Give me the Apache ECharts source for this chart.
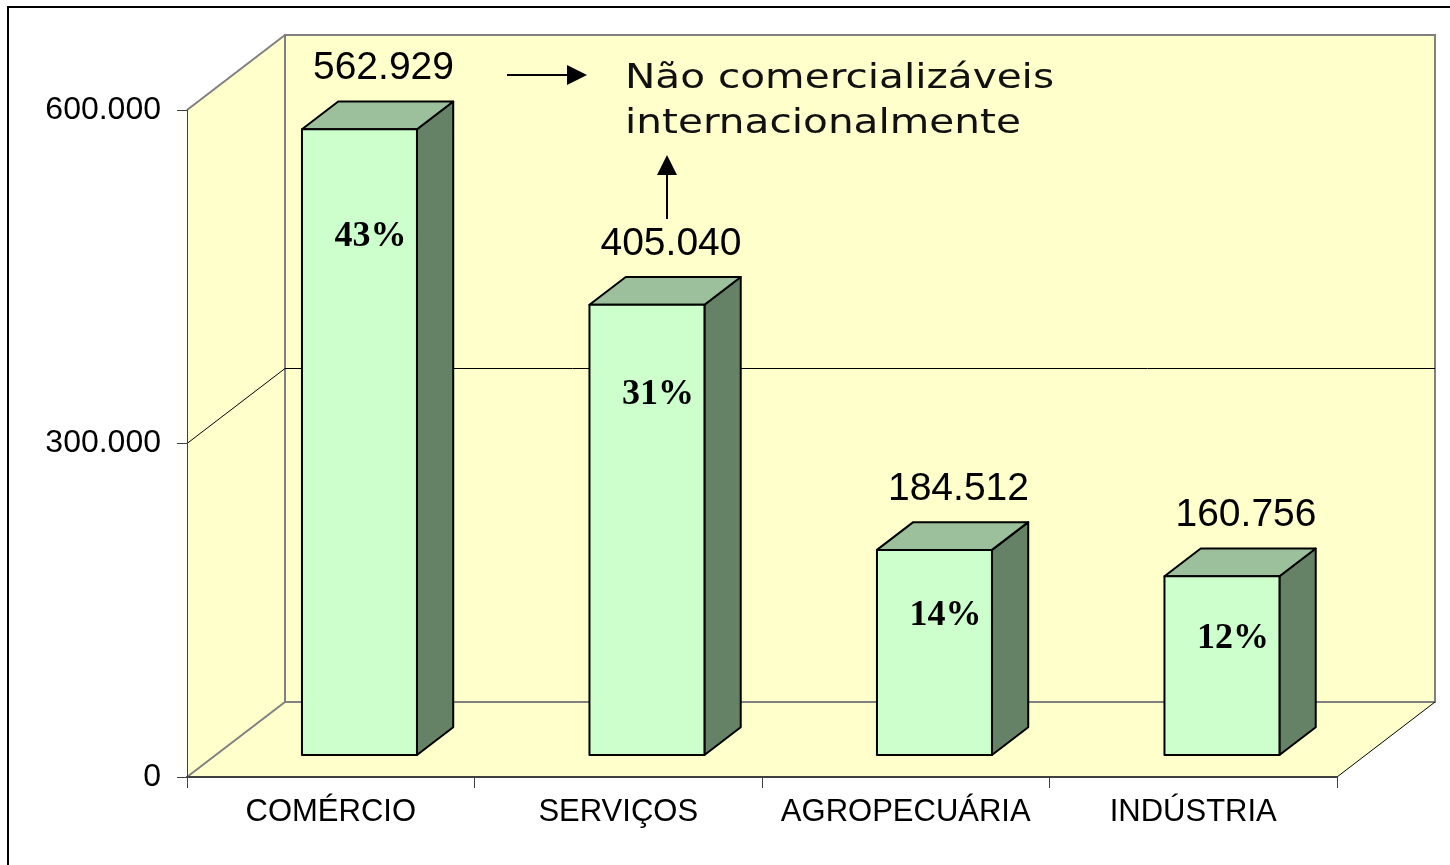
<!DOCTYPE html>
<html>
<head>
<meta charset="utf-8">
<title>Setores</title>
<script src="https://cdn.jsdelivr.net/npm/echarts@6/dist/echarts.min.js"></script>
<style>
  html, body { margin: 0; padding: 0; background: #fff; }
  #chart-container { width: 1450px; height: 865px; }
</style>
</head>
<body>
<div id="chart-container"></div>
<script>
// dados do grafico
var categories = ["COMÉRCIO", "SERVIÇOS", "AGROPECUÁRIA", "INDÚSTRIA"];
var values = [562929, 405040, 184512, 160756];
var shares = [43, 31, 14, 12];
var yTicks = [0, 300000, 600000];

// profundidade do "3D" (px)
var DEPTH_X = 98, DEPTH_Y = -75;
var WALL = "#FFFFCC";

function fmt(n) {
  return String(n).replace(/\B(?=(\d{3})+(?!\d))/g, ".");
}

var dom = document.getElementById("chart-container");
var myChart = echarts.init(dom, null, { renderer: "canvas" });

function renderWalls(params, api) {
  var cs = params.coordSys;
  var L = cs.x, R = cs.x + cs.width, T = cs.y, B = cs.y + cs.height;
  var gray = { stroke: "#808080", lineWidth: 2 };
  var kids = [
    { type: "polygon", shape: { points: [[L, T], [L + DEPTH_X, T + DEPTH_Y], [L + DEPTH_X, B + DEPTH_Y], [L, B]] }, style: { fill: WALL } },
    { type: "polygon", shape: { points: [[L, B], [R, B], [R + DEPTH_X, B + DEPTH_Y], [L + DEPTH_X, B + DEPTH_Y]] }, style: { fill: WALL } },
    { type: "rect", shape: { x: L + DEPTH_X, y: T + DEPTH_Y, width: cs.width, height: cs.height }, style: { fill: WALL, stroke: "#808080", lineWidth: 2 } },
    { type: "line", shape: { x1: L, y1: T, x2: L + DEPTH_X, y2: T + DEPTH_Y }, style: gray },
    { type: "line", shape: { x1: L, y1: B, x2: L + DEPTH_X, y2: B + DEPTH_Y }, style: gray },
    { type: "line", shape: { x1: R, y1: B, x2: R + DEPTH_X, y2: B + DEPTH_Y }, style: { stroke: "#000", lineWidth: 1 } }
  ];
  yTicks.forEach(function (t) {
    if (t === yTicks[0] || t === yTicks[yTicks.length - 1]) return;
    var y = api.coord([0, t])[1];
    kids.push({ type: "line", shape: { x1: L, y1: y, x2: L + DEPTH_X, y2: y + DEPTH_Y }, style: { stroke: "#000", lineWidth: 1 } });
    kids.push({ type: "line", shape: { x1: L + DEPTH_X, y1: y + DEPTH_Y, x2: R + DEPTH_X, y2: y + DEPTH_Y }, style: { stroke: "#000", lineWidth: 1 } });
  });
  return { type: "group", children: kids };
}

function renderBar(params, api) {
  var i = api.value(0), v = api.value(1), pct = api.value(2);
  var top = api.coord([i, v]);
  var base = api.coord([i, 0]);
  var w = api.size([1, 0])[0] * 0.4;
  // barra fica a ~30% da profundidade, com ~37% de espessura
  var fx = DEPTH_X * 0.293, fy = DEPTH_Y * 0.293;
  var bx = DEPTH_X * 0.37, by = DEPTH_Y * 0.37;
  var x0 = top[0] + fx - w / 2, x1 = x0 + w;
  var yT = top[1] + fy, yB = base[1] + fy;
  var h = yB - yT;
  var edge = { stroke: "#000", lineWidth: 2, lineJoin: "round" };
  return {
    type: "group",
    children: [
      { type: "polygon", shape: { points: [[x1, yT], [x1 + bx, yT + by], [x1 + bx, yB + by], [x1, yB]] }, style: Object.assign({ fill: "#668266" }, edge) },
      { type: "polygon", shape: { points: [[x0, yT], [x0 + bx, yT + by], [x1 + bx, yT + by], [x1, yT]] }, style: Object.assign({ fill: "#9CC09C" }, edge) },
      { type: "rect", shape: { x: x0, y: yT, width: w, height: h }, style: Object.assign({ fill: "#CCFFCC" }, edge) },
      { type: "text", x: (x0 + x1) / 2 + 24, y: yT + by - 33,
        style: { text: fmt(v), fill: "#000", font: "39px 'Liberation Sans', Arial", align: "center", verticalAlign: "middle" } },
      { type: "text", x: (x0 + x1) / 2 + 11, y: yT + 45 + 0.1 * h,
        style: { text: pct + "%", fill: "#000", font: "bold 36px 'Liberation Serif', 'Times New Roman'", align: "center", verticalAlign: "middle" } }
    ]
  };
}

var option = {
  backgroundColor: "#fff",
  animation: false,
  grid: { left: 187, right: 113, top: 110, bottom: 88, containLabel: false },
  xAxis: {
    type: "category",
    data: categories,
    z: 5,
    axisLine: { show: true, lineStyle: { color: "#404040", width: 2 } },
    axisTick: { show: true, interval: 0, length: 11, lineStyle: { color: "#404040", width: 1 } },
    axisLabel: { interval: 0, color: "#000", fontSize: 31, fontFamily: "Liberation Sans", margin: 20 },
    splitLine: { show: false }
  },
  yAxis: {
    type: "value",
    min: 0,
    max: 600000,
    interval: 300000,
    z: 5,
    axisLine: { show: true, lineStyle: { color: "#404040", width: 1 } },
    axisTick: { show: true, length: 10, lineStyle: { color: "#404040" } },
    axisLabel: { color: "#000", fontSize: 32, fontFamily: "Liberation Sans", margin: 26, formatter: fmt },
    splitLine: { show: false }
  },
  series: [
    {
      type: "custom",
      name: "paredes",
      silent: true,
      z: 1,
      clip: false,
      renderItem: renderWalls,
      data: [[0, 0]]
    },
    {
      type: "custom",
      name: "valores",
      z: 3,
      clip: false,
      renderItem: renderBar,
      encode: { x: 0, y: 1 },
      data: values.map(function (v, i) { return [i, v, shares[i]]; })
    }
  ],
  graphic: [
    { type: "rect", shape: { x: 8, y: 7, width: 1460, height: 880 }, style: { fill: "none", stroke: "#000", lineWidth: 2 }, z: 100 },
    // setas da anotacao
    { type: "line", shape: { x1: 507, y1: 75, x2: 570, y2: 75 }, style: { stroke: "#000", lineWidth: 2 }, z: 100 },
    { type: "polygon", shape: { points: [[567, 65], [587, 75], [567, 85]] }, style: { fill: "#000" }, z: 100 },
    { type: "line", shape: { x1: 667, y1: 219, x2: 667, y2: 172 }, style: { stroke: "#000", lineWidth: 2 }, z: 100 },
    { type: "polygon", shape: { points: [[657, 175], [667, 155], [677, 175]] }, style: { fill: "#000" }, z: 100 },
    { type: "text", x: 625, y: 79, scaleX: 1.23, z: 100,
      style: { text: "Não comercializáveis", fill: "#111", font: "33px 'DejaVu Sans'", align: "left", verticalAlign: "middle" } },
    { type: "text", x: 625, y: 124, scaleX: 1.23, z: 100,
      style: { text: "internacionalmente", fill: "#111", font: "33px 'DejaVu Sans'", align: "left", verticalAlign: "middle" } }
  ]
};

myChart.setOption(option);
window.addEventListener("resize", myChart.resize);
</script>
</body>
</html>
